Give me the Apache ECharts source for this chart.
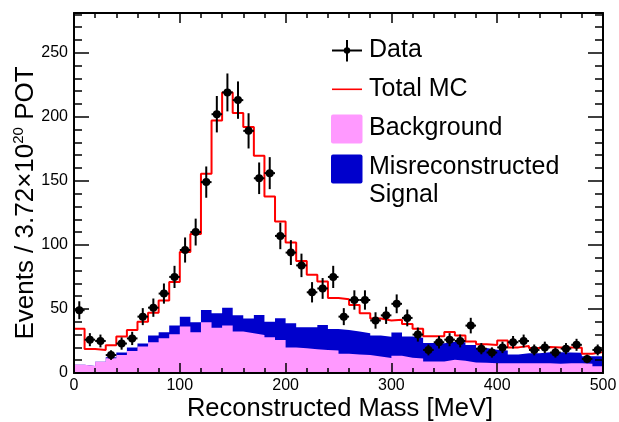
<!DOCTYPE html>
<html>
<head>
<meta charset="utf-8">
<script src="https://cdn.jsdelivr.net/npm/echarts@6/dist/echarts.min.js"></script>
<style>
html,body{margin:0;padding:0;background:#fff;}
#chart{width:619px;height:422px;}
</style>
</head>
<body>
<div id="chart"></div>
<script>
// ---- data (10 MeV bins, 0-500 MeV) ----
const binCenters = [5,15,25,35,45,55,65,75,85,95,105,115,125,135,145,155,165,175,185,195,
  205,215,225,235,245,255,265,275,285,295,305,315,325,335,345,355,365,375,385,395,
  405,415,425,435,445,455,465,475,485,495];
const binHalfWidth = 5;
const dataCounts = [49,26,25,14,23,27,44,51,62,75,96,110,149,202,219,213,189,152,156,107,
  94,84,63,66,75,44,57,57,41,45,54,43,30,18,24,26,25,37,19,16,
  20,24,25,18,20,16,19,22,11,18];
const totalMC = [34.6,18.7,18,21.6,28.4,33.6,40,47,56.5,71,94.5,108.5,155.5,197,219,203,192,169.5,137.7,118.2,
  101.8,87.5,76.6,71.4,58.5,57.5,53,46.6,42.5,41,41.5,38.2,34.5,28.7,28.7,32,29.3,24.5,22.5,21.9,
  25.3,20,21.1,19.5,20.2,20,20,19.8,15.1,16.3];
const background = [6.5,5.5,8.8,11.5,14,17.2,20.6,24,27.1,30.2,36.2,31.8,39.6,35.4,37,32.3,31,29.7,27.9,25.8,
  20,19.3,18.5,18,17.5,15,14.5,14,12.8,11.8,13.5,12,11.3,9,9,10.3,9.5,8.2,8,7.6,
  7.6,7.6,7.6,7.6,7.6,7.2,7.6,7.6,7.2,5.2];
const misreco = [0,0,0,0.8,2,2.8,2.4,5.2,4.7,6.8,7.8,7.8,9.6,11.2,14,12.7,11.5,15.6,12.2,16.9,
  18.8,16.4,17.2,19.5,16.9,18.6,17.8,17,16.5,16.4,18.1,16.4,16.2,14.5,14.2,14,14.5,13.7,11.6,10.6,
  10,6.9,7.8,7.8,8.6,9,8.4,8.2,5.8,7.8];
const xTickLabels = ['0','100','200','300','400','500'];
const yTickLabels = ['0','50','100','150','200','250'];

const X_MIN = 0, X_MAX = 500, Y_MIN = 0, Y_MAX = 281;
const FONT = 'Liberation Sans, Arial, Helvetica, sans-serif';

// stacked histogram: misreconstructed signal sits on top of the background
const stackTop = background.map((b, i) => b + misreco[i]);

// step series: point at each bin's low edge, plus closing point at the upper edge
function stepData(vals, closeToZero) {
  const out = [];
  if (closeToZero) out.push([binCenters[0] - binHalfWidth, 0]);
  vals.forEach((v, i) => out.push([binCenters[i] - binHalfWidth, v]));
  const last = binCenters.length - 1;
  out.push([binCenters[last] + binHalfWidth, vals[last]]);
  if (closeToZero) out.push([binCenters[last] + binHalfWidth, 0]);
  return out;
}
const dataPts = binCenters.map((x, i) => [x, dataCounts[i], Math.sqrt(dataCounts[i])]);

const chart = echarts.init(document.getElementById('chart'), null, {renderer: 'canvas'});

const axisLine = {show: true, onZero: false, lineStyle: {color: '#000', width: 2}};
const noLine = {show: false, onZero: false};

const option = {
  backgroundColor: '#fff',
  animation: false,
  grid: {left: 74, right: 16, top: 13, bottom: 49, containLabel: false, outerBoundsMode: 'none'},
  xAxis: [
    {
      type: 'value', position: 'bottom', min: X_MIN, max: X_MAX, interval: 100, z: 10,
      axisLine: axisLine,
      axisTick: {show: true, inside: true, length: 10, lineStyle: {color: '#000', width: 1.5}},
      minorTick: {show: true, splitNumber: 5, length: 5, lineStyle: {color: '#000', width: 1.5}},
      splitLine: {show: false}, minorSplitLine: {show: false},
      axisLabel: {
        margin: 5, color: '#000', fontSize: 16, fontFamily: FONT,
        formatter: v => xTickLabels[Math.round(v / 100)] ?? ''
      }
    },
    {
      type: 'value', position: 'top', min: X_MIN, max: X_MAX, interval: 100, z: 10,
      axisLine: axisLine,
      axisTick: {show: true, inside: true, length: 10, lineStyle: {color: '#000', width: 1.5}},
      minorTick: {show: true, splitNumber: 5, length: 5, lineStyle: {color: '#000', width: 1.5}},
      splitLine: {show: false}, axisLabel: {show: false}
    }
  ],
  yAxis: [
    {
      type: 'value', position: 'left', min: Y_MIN, max: Y_MAX, interval: 50, z: 10,
      axisLine: axisLine,
      axisTick: {show: true, inside: true, length: 15, lineStyle: {color: '#000', width: 1.5}},
      splitLine: {show: false},
      axisLabel: {
        margin: 6, color: '#000', fontSize: 16, fontFamily: FONT, showMaxLabel: false,
        formatter: v => (v % 50 === 0 ? (yTickLabels[v / 50] ?? '') : '')
      }
    },
    {
      type: 'value', position: 'left', min: Y_MIN, max: Y_MAX, interval: 10, z: 10,
      axisLine: noLine,
      axisTick: {show: true, inside: true, length: 8, lineStyle: {color: '#000', width: 1.5}},
      splitLine: {show: false}, axisLabel: {show: false}
    },
    {
      type: 'value', position: 'right', min: Y_MIN, max: Y_MAX, interval: 50, z: 10,
      axisLine: axisLine,
      axisTick: {show: true, inside: true, length: 15, lineStyle: {color: '#000', width: 1.5}},
      splitLine: {show: false}, axisLabel: {show: false}
    },
    {
      type: 'value', position: 'right', min: Y_MIN, max: Y_MAX, interval: 10, z: 10,
      axisLine: noLine,
      axisTick: {show: true, inside: true, length: 8, lineStyle: {color: '#000', width: 1.5}},
      splitLine: {show: false}, axisLabel: {show: false}
    }
  ],
  series: [
    {
      name: 'Misreconstructed Signal', type: 'line', step: 'end',
      data: stepData(stackTop, false), symbol: 'none',
      lineStyle: {width: 0, opacity: 0},
      areaStyle: {color: '#0000cc', opacity: 1, origin: 'start'}, z: 2
    },
    {
      name: 'Background', type: 'line', step: 'end',
      data: stepData(background, false), symbol: 'none',
      lineStyle: {width: 0, opacity: 0},
      areaStyle: {color: '#ff99ff', opacity: 1, origin: 'start'}, z: 3
    },
    {
      name: 'Total MC', type: 'line', step: 'end',
      data: stepData(totalMC, true), symbol: 'none',
      lineStyle: {color: '#ff0000', width: 2}, z: 4
    },
    {
      name: 'Data', type: 'custom', data: dataPts, z: 5, clip: true,
      encode: {x: 0, y: 1},
      renderItem: function (params, api) {
        const x = api.value(0), y = api.value(1), e = api.value(2);
        const c = api.coord([x, y]);
        const t = api.coord([x, y + e]);
        const b = api.coord([x, Math.max(0, y - e)]);
        const l = api.coord([x - binHalfWidth, y]);
        const r = api.coord([x + binHalfWidth, y]);
        return {
          type: 'group',
          children: [
            {type: 'line', shape: {x1: c[0], y1: t[1], x2: c[0], y2: b[1]}, style: {stroke: '#000', lineWidth: 2}},
            {type: 'line', shape: {x1: l[0], y1: c[1], x2: r[0], y2: c[1]}, style: {stroke: '#000', lineWidth: 2}},
            {type: 'circle', shape: {cx: c[0], cy: c[1], r: 4}, style: {fill: '#000'}}
          ]
        };
      }
    }
  ],
  graphic: [
    // x-axis title
    {
      type: 'text', x: 340, y: 409, z: 20,
      style: {text: 'Reconstructed Mass [MeV]', font: '25.5px ' + FONT, fill: '#000', align: 'center', verticalAlign: 'middle'}
    },
    // y-axis title (rotated, with superscript exponent)
    {
      type: 'text', x: 26, y: 203, rotation: Math.PI / 2, z: 20,
      style: {
        text: '{a|Events / 3.72×10}{s|20}{a| POT}',
        align: 'center', verticalAlign: 'middle', fill: '#000',
        font: '26px ' + FONT,
        rich: {
          a: {fontSize: 26, lineHeight: 30, fontFamily: FONT, fill: '#000', verticalAlign: 'middle'},
          s: {fontSize: 15, lineHeight: 15, fontFamily: FONT, fill: '#000', verticalAlign: 'top'}
        }
      }
    },
    // legend
    {type: 'line', shape: {x1: 332, y1: 50.5, x2: 362, y2: 50.5}, style: {stroke: '#000', lineWidth: 2}, z: 20},
    {type: 'line', shape: {x1: 347, y1: 40, x2: 347, y2: 61.5}, style: {stroke: '#000', lineWidth: 2}, z: 20},
    {type: 'circle', shape: {cx: 347, cy: 50.5, r: 3.2}, style: {fill: '#000'}, z: 20},
    {type: 'text', x: 369, y: 50, style: {text: 'Data', font: '25px ' + FONT, fill: '#000', verticalAlign: 'middle'}, z: 20},
    {type: 'line', shape: {x1: 332, y1: 89.3, x2: 362, y2: 89.3}, style: {stroke: '#ff0000', lineWidth: 1.6}, z: 20},
    {type: 'text', x: 369, y: 89, style: {text: 'Total MC', font: '25px ' + FONT, fill: '#000', verticalAlign: 'middle'}, z: 20},
    {type: 'rect', shape: {x: 331, y: 114.5, width: 31.5, height: 29, r: 2}, style: {fill: '#ff99ff'}, z: 20},
    {type: 'text', x: 369, y: 128.5, style: {text: 'Background', font: '25px ' + FONT, fill: '#000', verticalAlign: 'middle'}, z: 20},
    {type: 'rect', shape: {x: 331, y: 154.5, width: 31.5, height: 29, r: 2}, style: {fill: '#0000cc'}, z: 20},
    {type: 'text', x: 369, y: 153, style: {text: 'Misreconstructed\nSignal', font: '25px ' + FONT, fill: '#000', verticalAlign: 'top', lineHeight: 28}, z: 20}
  ]
};
chart.setOption(option);
</script>
</body>
</html>
